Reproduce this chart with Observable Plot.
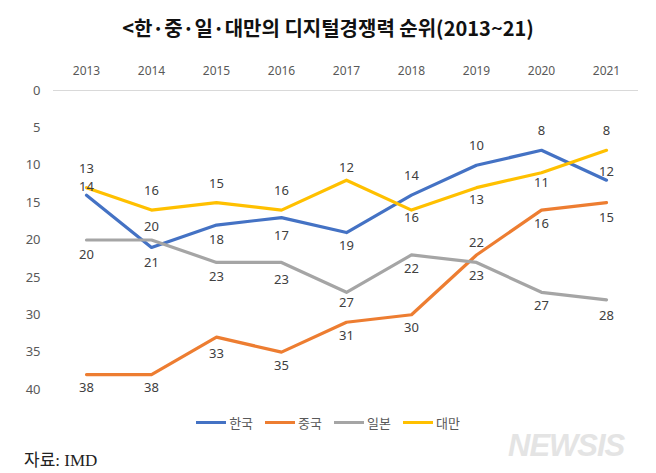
<!DOCTYPE html>
<html>
<head>
<meta charset="utf-8">
<script src="https://cdn.jsdelivr.net/npm/d3@7"></script>
<script src="https://cdn.jsdelivr.net/npm/@observablehq/plot@0.6"></script>
<style>
  html, body { margin: 0; padding: 0; background: #fff; }
  #wrap { position: relative; width: 656px; height: 473px; overflow: hidden; background: #fff; }
  #title { position: absolute; left: 0; width: 656px; top: 13px; text-align: center;
    font-family: "Noto Sans CJK KR", sans-serif; font-size: 20px; font-weight: bold; color: #111; }
  #legend { position: absolute; top: 413px; left: 0; width: 656px; display: flex; justify-content: center;
    font-family: "Noto Sans CJK KR", sans-serif; font-size: 13px; color: #595959; }
  .item { display: flex; align-items: center; margin: 0 6px; }
  .sw { display: inline-block; width: 30px; height: 3px; margin-right: 3px; }
  #caption { position: absolute; left: 24px; top: 446px; font-family: "Liberation Serif", "Noto Sans CJK KR", serif; font-size: 17px; color: #222; }
  #mark { position: absolute; left: 508px; top: 428px; font-family: "Liberation Sans", sans-serif; font-style: italic; font-weight: bold;
    font-size: 31px; color: #e4e4e4; letter-spacing: -1px; }
</style>
</head>
<body>
<div id="wrap">
  <div id="chart"></div>
  <div id="title">&lt;한·중·일·대만의 디지털경쟁력 순위(2013~21)</div>
  <div id="legend"></div>
  <div id="caption">자료: IMD</div>
  <div id="mark">NEWSIS</div>
</div>
<script>
const years = ["2013","2014","2015","2016","2017","2018","2019","2020","2021"];
const seriesNames = ["한국","중국","일본","대만"];
const korea  = [14, 21, 18, 17, 19, 14, 10, 8, 12];
const china  = [38, 38, 33, 35, 31, 30, 22, 16, 15];
const japan  = [20, 20, 23, 23, 27, 22, 23, 27, 28];
const taiwan = [13, 16, 15, 16, 12, 16, 13, 11, 8];
const yTicks = [0, 5, 10, 15, 20, 25, 30, 35, 40];

// label placement (pixel offsets), kept apart from the data
const koreaDy  = [-8, 15, 15, 18, 13, -19, -19, -19, -8];
const chinaDy  = [13, 13, 17, 14, 14, 13, -12, 14, 15];
const japanDy  = [15, -13, 14, 17, 11, 14, 13, 14, 16];
const taiwanDy = [-19, -19, -19, -19, -12, 8, 12, 10, -19];
const colors = ["#4472C4", "#ED7D31", "#A5A5A5", "#FFC000"];

const seriesVals = [korea, china, japan, taiwan];
const seriesDy = [koreaDy, chinaDy, japanDy, taiwanDy];

const marks = [Plot.ruleY([0], {stroke: "#d9d9d9", strokeWidth: 1})];
seriesVals.forEach((vals, s) => {
  const rows = years.map((y, i) => ({year: y, value: vals[i]}));
  marks.push(Plot.line(rows, {x: "year", y: "value", stroke: colors[s], strokeWidth: 3.2, strokeLinejoin: "round", strokeLinecap: "round"}));
});
seriesVals.forEach((vals, s) => {
  years.forEach((y, i) => {
    marks.push(Plot.text([{year: y, value: vals[i]}], {
      x: "year", y: "value", text: d => String(d.value), dy: seriesDy[s][i],
      fill: "#404040", fontSize: 13, fontFamily: "Noto Sans"
    }));
  });
});

const chart = Plot.plot({
  width: 656,
  height: 473,
  marginLeft: 53,
  marginRight: 18,
  marginTop: 90,
  marginBottom: 84,
  style: {fontFamily: "Noto Sans", background: "transparent"},
  x: {type: "point", domain: years, padding: 0.5},
  y: {domain: [0, 40], reverse: true},
  marks: [
    Plot.axisX({anchor: "top", tickSize: 0, tickPadding: 16, label: null, fill: "#595959", fontSize: 12}),
    Plot.axisY({ticks: yTicks, tickSize: 0, tickPadding: 13, label: null, fill: "#595959", fontSize: 13}),
    ...marks
  ]
});
document.getElementById("chart").appendChild(chart);

const legend = document.getElementById("legend");
seriesNames.forEach((n, i) => {
  const it = document.createElement("div");
  it.className = "item";
  const sw = document.createElement("span");
  sw.className = "sw";
  sw.style.background = colors[i];
  it.appendChild(sw);
  it.appendChild(document.createTextNode(n));
  legend.appendChild(it);
});
</script>
</body>
</html>
